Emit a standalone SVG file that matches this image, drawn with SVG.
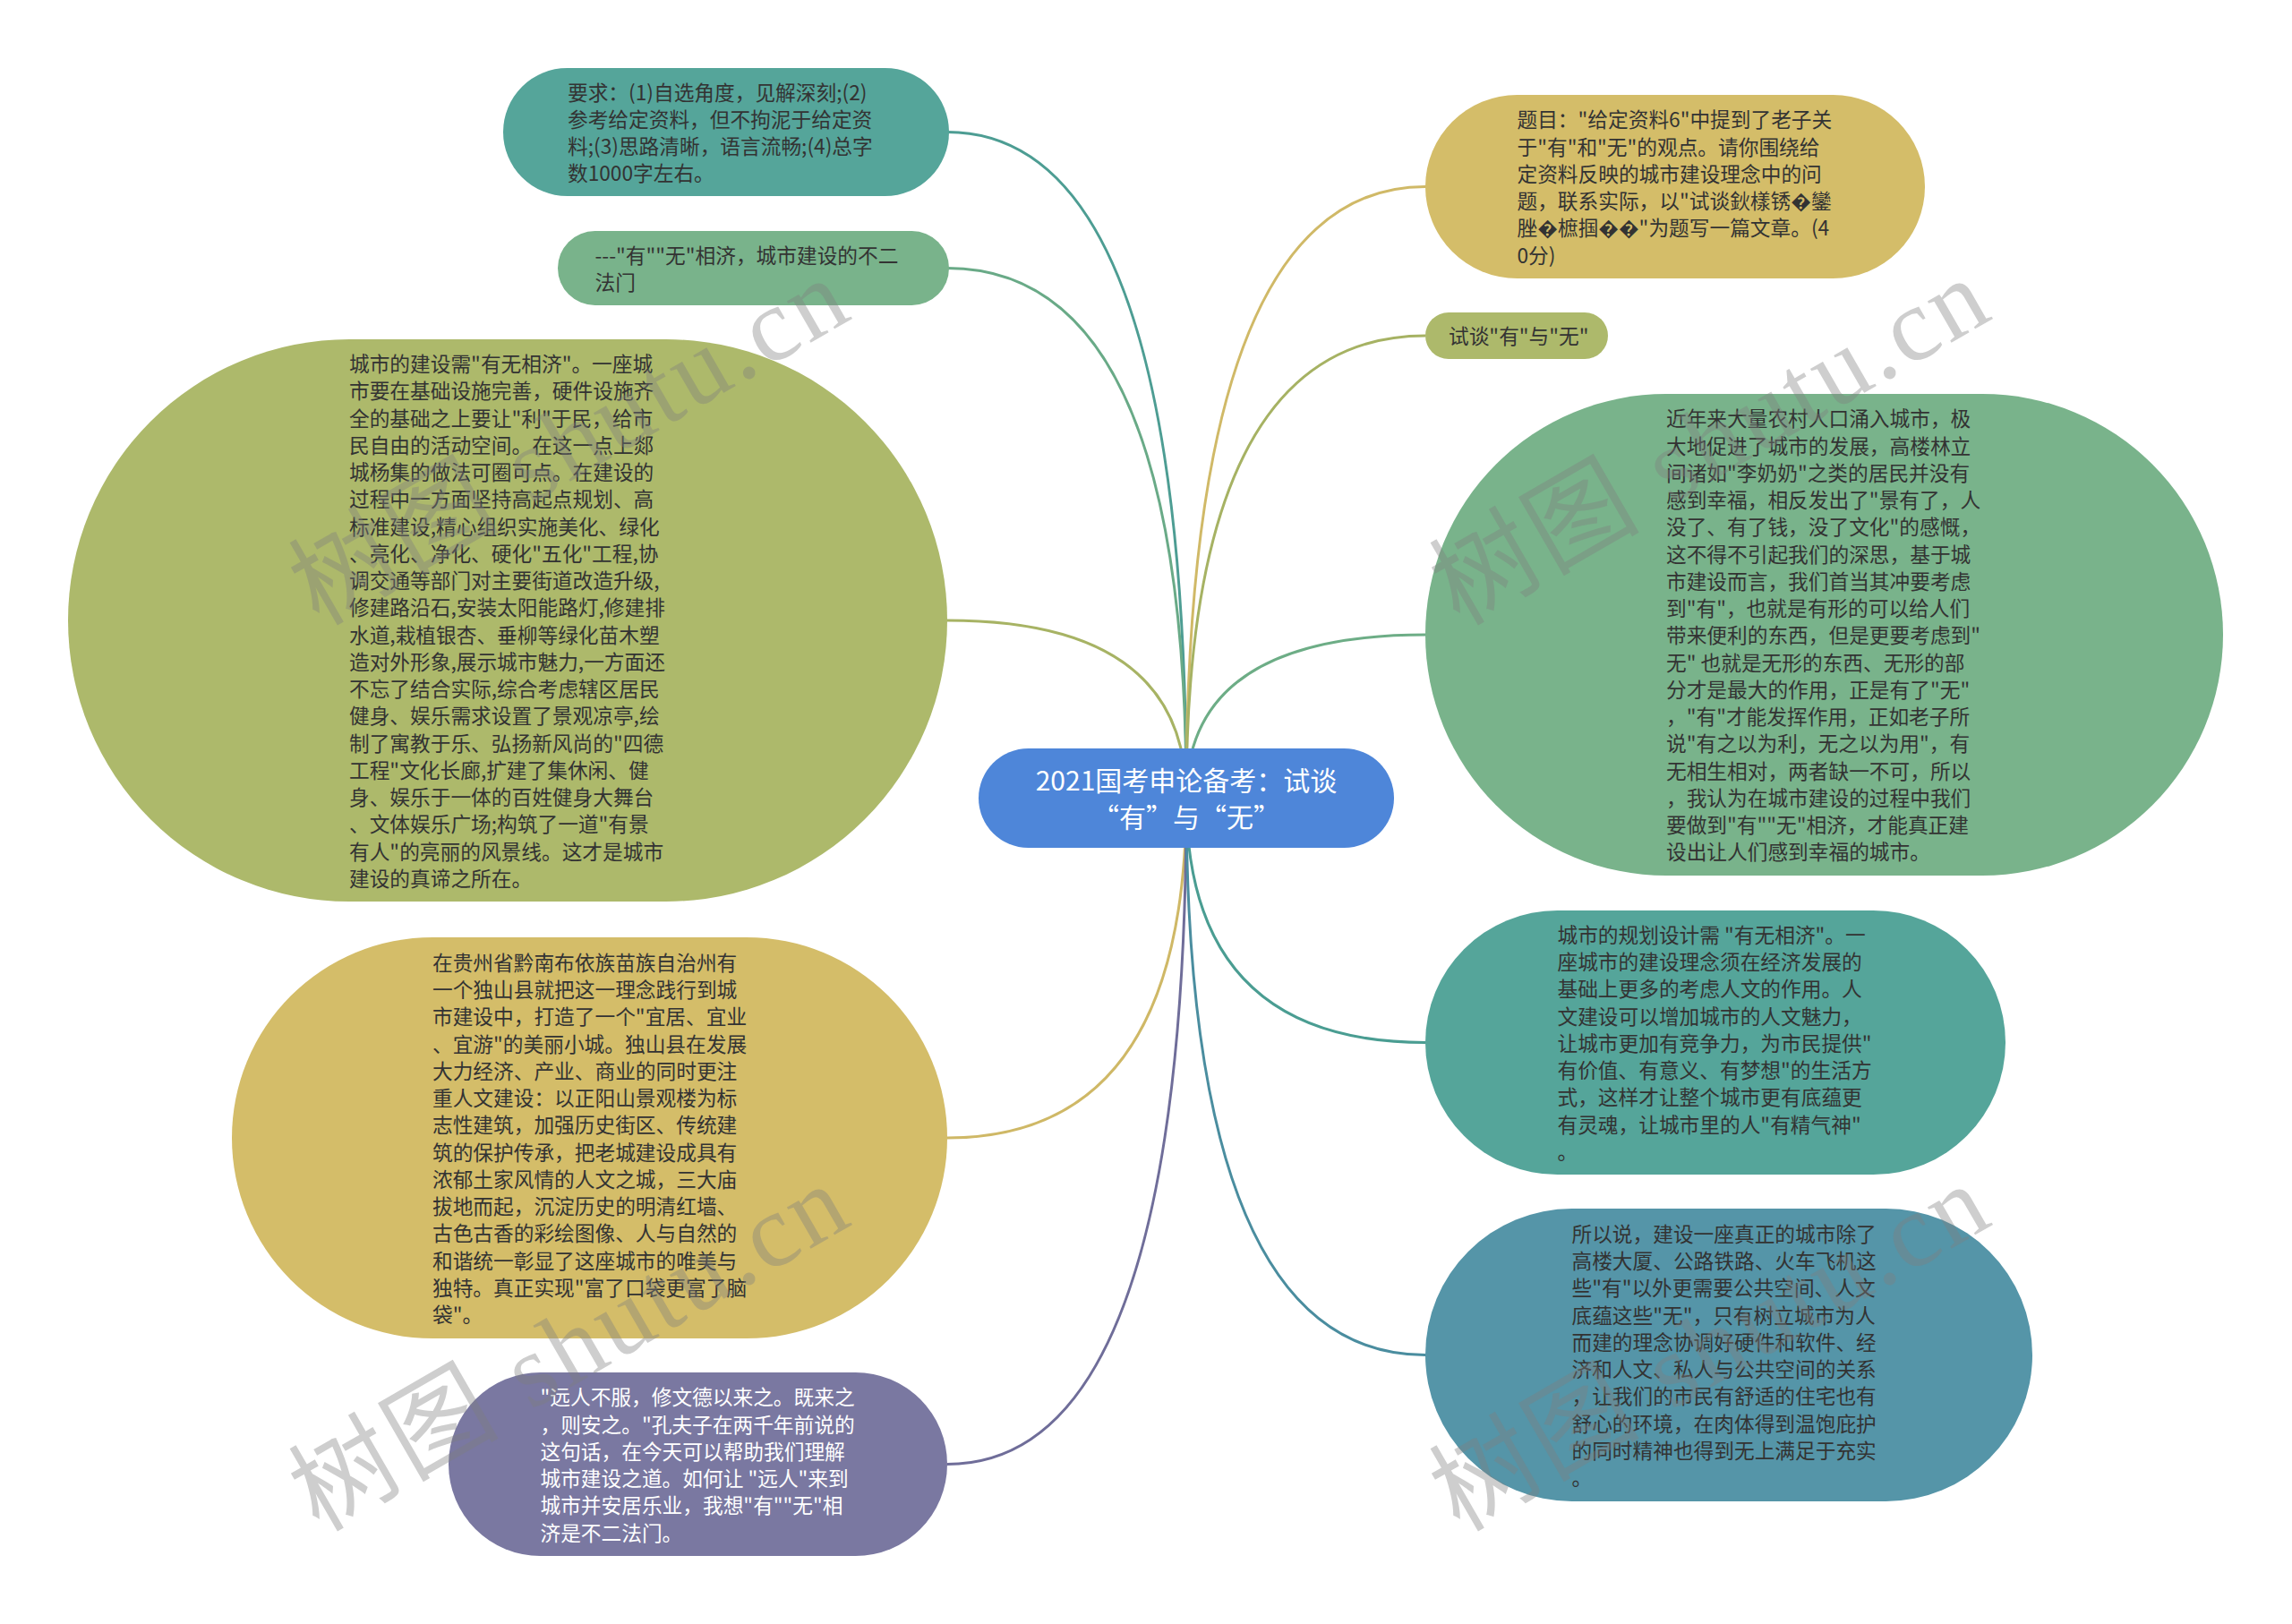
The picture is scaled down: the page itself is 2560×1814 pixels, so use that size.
<svg xmlns="http://www.w3.org/2000/svg" width="2560" height="1814" viewBox="0 0 2560 1814">
<style>
.t{font-family:"Noto Sans CJK SC","Noto Sans",sans-serif;font-size:22.7px;fill:#333333}
.w{fill:#ffffff}
.c{font-family:"Noto Sans CJK SC","Noto Sans",sans-serif;font-size:30px;fill:#ffffff;text-anchor:middle}
.ln{fill:none;stroke-width:3}
.wm{font-family:"Liberation Serif","Noto Sans CJK SC",serif;font-size:116px;fill:#7f7f7f;opacity:0.38}
</style>
<rect width="2560" height="1814" fill="#ffffff"/>
<g id="connectors">
<path class="ln" stroke="#4d9d93" d="M1325,891 Q1325,147.5 1058,147.5"/>
<path class="ln" stroke="#69aa87" d="M1325,891 Q1325,299.5 1058,299.5"/>
<path class="ln" stroke="#a7b364" d="M1325,891 Q1325,693 1058,693"/>
<path class="ln" stroke="#cfb866" d="M1325,891 Q1325,1271 1058,1271"/>
<path class="ln" stroke="#6f6d99" d="M1325,891 Q1325,1635.5 1058,1635.5"/>
<path class="ln" stroke="#d0b967" d="M1325,891 Q1325,208.5 1592,208.5"/>
<path class="ln" stroke="#a6b263" d="M1325,891 Q1325,375 1592,375"/>
<path class="ln" stroke="#6dad86" d="M1325,891 Q1325,709 1592,709"/>
<path class="ln" stroke="#4a9d92" d="M1325,891 Q1325,1164.5 1592,1164.5"/>
<path class="ln" stroke="#4a8d9f" d="M1325,891 Q1325,1513.5 1592,1513.5"/>
</g>
<g id="center">
<rect x="1093" y="836" width="464" height="111" rx="55.5" fill="#4e86d9"/>
<text class="c" x="1325" y="883">2021国考申论备考：试谈</text>
<text class="c" x="1325" y="924">“有”与“无”</text>
</g>
<g id="n1">
<rect x="562" y="76" width="498" height="143" rx="71.5" fill="#55a59a"/>
<text class="t" x="634" y="111.5"><tspan x="634">要求：(1)自选角度，见解深刻;(2)</tspan><tspan x="634" dy="30.25">参考给定资料，但不拘泥于给定资</tspan><tspan x="634" dy="30.25">料;(3)思路清晰，语言流畅;(4)总字</tspan><tspan x="634" dy="30.25">数1000字左右。</tspan></text>
</g>
<g id="n2">
<rect x="623" y="258" width="437" height="83" rx="41.5" fill="#79b38b"/>
<text class="t" x="664.5" y="293.75"><tspan x="664.5">---"有""无"相济，城市建设的不二</tspan><tspan x="664.5" dy="30.25">法门</tspan></text>
</g>
<g id="n3">
<rect x="76" y="379" width="982" height="628" rx="314" fill="#adb96b"/>
<text class="t" x="390" y="415"><tspan x="390">城市的建设需"有无相济"。一座城</tspan><tspan x="390" dy="30.25">市要在基础设施完善，硬件设施齐</tspan><tspan x="390" dy="30.25">全的基础之上要让"利"于民，给市</tspan><tspan x="390" dy="30.25">民自由的活动空间。在这一点上郯</tspan><tspan x="390" dy="30.25">城杨集的做法可圈可点。在建设的</tspan><tspan x="390" dy="30.25">过程中一方面坚持高起点规划、高</tspan><tspan x="390" dy="30.25">标准建设,精心组织实施美化、绿化</tspan><tspan x="390" dy="30.25">、亮化、净化、硬化"五化"工程,协</tspan><tspan x="390" dy="30.25">调交通等部门对主要街道改造升级,</tspan><tspan x="390" dy="30.25">修建路沿石,安装太阳能路灯,修建排</tspan><tspan x="390" dy="30.25">水道,栽植银杏、垂柳等绿化苗木塑</tspan><tspan x="390" dy="30.25">造对外形象,展示城市魅力,一方面还</tspan><tspan x="390" dy="30.25">不忘了结合实际,综合考虑辖区居民</tspan><tspan x="390" dy="30.25">健身、娱乐需求设置了景观凉亭,绘</tspan><tspan x="390" dy="30.25">制了寓教于乐、弘扬新风尚的"四德</tspan><tspan x="390" dy="30.25">工程"文化长廊,扩建了集休闲、健</tspan><tspan x="390" dy="30.25">身、娱乐于一体的百姓健身大舞台</tspan><tspan x="390" dy="30.25">、文体娱乐广场;构筑了一道"有景</tspan><tspan x="390" dy="30.25">有人"的亮丽的风景线。这才是城市</tspan><tspan x="390" dy="30.25">建设的真谛之所在。</tspan></text>
</g>
<g id="n4">
<rect x="259" y="1047" width="799" height="448" rx="224" fill="#d4bd69"/>
<text class="t" x="483" y="1083.75"><tspan x="483">在贵州省黔南布依族苗族自治州有</tspan><tspan x="483" dy="30.25">一个独山县就把这一理念践行到城</tspan><tspan x="483" dy="30.25">市建设中，打造了一个"宜居、宜业</tspan><tspan x="483" dy="30.25">、宜游"的美丽小城。独山县在发展</tspan><tspan x="483" dy="30.25">大力经济、产业、商业的同时更注</tspan><tspan x="483" dy="30.25">重人文建设：以正阳山景观楼为标</tspan><tspan x="483" dy="30.25">志性建筑，加强历史街区、传统建</tspan><tspan x="483" dy="30.25">筑的保护传承，把老城建设成具有</tspan><tspan x="483" dy="30.25">浓郁土家风情的人文之城，三大庙</tspan><tspan x="483" dy="30.25">拔地而起，沉淀历史的明清红墙、</tspan><tspan x="483" dy="30.25">古色古香的彩绘图像、人与自然的</tspan><tspan x="483" dy="30.25">和谐统一彰显了这座城市的唯美与</tspan><tspan x="483" dy="30.25">独特。真正实现"富了口袋更富了脑</tspan><tspan x="483" dy="30.25">袋"。</tspan></text>
</g>
<g id="n5">
<rect x="501" y="1533" width="557" height="205" rx="102.5" fill="#7a78a1"/>
<text class="t w" x="603.5" y="1569.25"><tspan x="603.5">"远人不服，修文德以来之。既来之</tspan><tspan x="603.5" dy="30.25">，则安之。"孔夫子在两千年前说的</tspan><tspan x="603.5" dy="30.25">这句话，在今天可以帮助我们理解</tspan><tspan x="603.5" dy="30.25">城市建设之道。如何让 "远人"来到</tspan><tspan x="603.5" dy="30.25">城市并安居乐业，我想"有""无"相</tspan><tspan x="603.5" dy="30.25">济是不二法门。</tspan></text>
</g>
<g id="n7">
<rect x="1592" y="106" width="558" height="205" rx="102.5" fill="#d4bd69"/>
<text class="t" x="1694.5" y="142.25"><tspan x="1694.5">题目："给定资料6"中提到了老子关</tspan><tspan x="1694.5" dy="30.25">于"有"和"无"的观点。请你围绕给</tspan><tspan x="1694.5" dy="30.25">定资料反映的城市建设理念中的问</tspan><tspan x="1694.5" dy="30.25">题，联系实际，以"试谈鈥樣锈�鑾</tspan><tspan x="1694.5" dy="30.25">脞�樜掴��"为题写一篇文章。(4</tspan><tspan x="1694.5" dy="30.25">0分)</tspan></text>
</g>
<g id="n8">
<rect x="1592" y="349" width="204" height="52" rx="26" fill="#adb96b"/>
<text class="t" x="1618" y="384.4">试谈"有"与"无"</text>
</g>
<g id="n9">
<rect x="1592" y="440" width="891" height="538" rx="269" fill="#79b38b"/>
<text class="t" x="1861" y="476.4"><tspan x="1861">近年来大量农村人口涌入城市，极</tspan><tspan x="1861" dy="30.25">大地促进了城市的发展，高楼林立</tspan><tspan x="1861" dy="30.25">间诸如"李奶奶"之类的居民并没有</tspan><tspan x="1861" dy="30.25">感到幸福，相反发出了"景有了，人</tspan><tspan x="1861" dy="30.25">没了、有了钱，没了文化"的感慨，</tspan><tspan x="1861" dy="30.25">这不得不引起我们的深思，基于城</tspan><tspan x="1861" dy="30.25">市建设而言，我们首当其冲要考虑</tspan><tspan x="1861" dy="30.25">到"有"，也就是有形的可以给人们</tspan><tspan x="1861" dy="30.25">带来便利的东西，但是更要考虑到"</tspan><tspan x="1861" dy="30.25">无" 也就是无形的东西、无形的部</tspan><tspan x="1861" dy="30.25">分才是最大的作用，正是有了"无"</tspan><tspan x="1861" dy="30.25">，"有"才能发挥作用，正如老子所</tspan><tspan x="1861" dy="30.25">说"有之以为利，无之以为用"，有</tspan><tspan x="1861" dy="30.25">无相生相对，两者缺一不可，所以</tspan><tspan x="1861" dy="30.25">，我认为在城市建设的过程中我们</tspan><tspan x="1861" dy="30.25">要做到"有""无"相济，才能真正建</tspan><tspan x="1861" dy="30.25">设出让人们感到幸福的城市。</tspan></text>
</g>
<g id="n10">
<rect x="1592" y="1017" width="648" height="295" rx="147.5" fill="#55a59a"/>
<text class="t" x="1739.5" y="1052.9"><tspan x="1739.5">城市的规划设计需 "有无相济"。一</tspan><tspan x="1739.5" dy="30.25">座城市的建设理念须在经济发展的</tspan><tspan x="1739.5" dy="30.25">基础上更多的考虑人文的作用。人</tspan><tspan x="1739.5" dy="30.25">文建设可以增加城市的人文魅力，</tspan><tspan x="1739.5" dy="30.25">让城市更加有竞争力，为市民提供"</tspan><tspan x="1739.5" dy="30.25">有价值、有意义、有梦想"的生活方</tspan><tspan x="1739.5" dy="30.25">式，这样才让整个城市更有底蕴更</tspan><tspan x="1739.5" dy="30.25">有灵魂，让城市里的人"有精气神"</tspan><tspan x="1739.5" dy="30.25">。</tspan></text>
</g>
<g id="n11">
<rect x="1592" y="1350" width="678" height="327" rx="163.5" fill="#5595a8"/>
<text class="t" x="1755.5" y="1386.75"><tspan x="1755.5">所以说，建设一座真正的城市除了</tspan><tspan x="1755.5" dy="30.25">高楼大厦、公路铁路、火车飞机这</tspan><tspan x="1755.5" dy="30.25">些"有"以外更需要公共空间、人文</tspan><tspan x="1755.5" dy="30.25">底蕴这些"无"，只有树立城市为人</tspan><tspan x="1755.5" dy="30.25">而建的理念协调好硬件和软件、经</tspan><tspan x="1755.5" dy="30.25">济和人文、私人与公共空间的关系</tspan><tspan x="1755.5" dy="30.25">，让我们的市民有舒适的住宅也有</tspan><tspan x="1755.5" dy="30.25">舒心的环境，在肉体得到温饱庇护</tspan><tspan x="1755.5" dy="30.25">的同时精神也得到无上满足于充实</tspan><tspan x="1755.5" dy="30.25">。</tspan></text>
</g>
<g id="watermark">
<text class="wm" transform="translate(356,700) rotate(-30)" textLength="690" lengthAdjust="spacing">树图 shutu.cn</text>
<text class="wm" transform="translate(1630,700) rotate(-30)" textLength="690" lengthAdjust="spacing">树图 shutu.cn</text>
<text class="wm" transform="translate(356,1712) rotate(-30)" textLength="690" lengthAdjust="spacing">树图 shutu.cn</text>
<text class="wm" transform="translate(1630,1712) rotate(-30)" textLength="690" lengthAdjust="spacing">树图 shutu.cn</text>
</g>
</svg>
